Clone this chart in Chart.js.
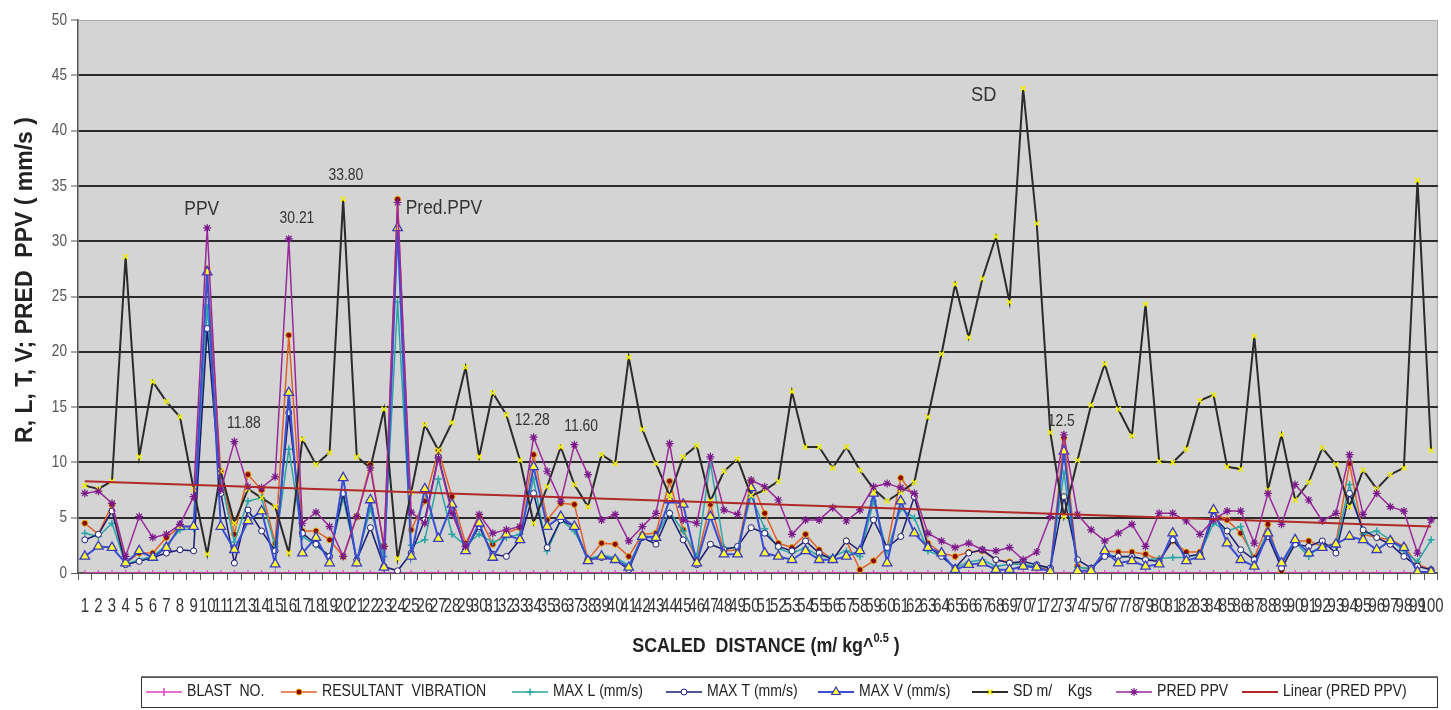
<!DOCTYPE html>
<html>
<head>
<meta charset="utf-8">
<script src="https://cdn.jsdelivr.net/npm/chart.js@4.4.0/dist/chart.umd.min.js"></script>
<style>
  html, body { margin: 0; padding: 0; background: #ffffff; }
  #wrap { width: 1451px; height: 710px; position: relative; }
</style>
</head>
<body>
<div id="wrap"><canvas id="c" width="1451" height="710"></canvas></div>
<script>
// Blast numbers along the category axis
const categories = [
  '1','2','3','4','5','6','7','8','9','10','11','12','13','14','15','16','17','18','19','20',
  '21','22','23','24','25','26','27','28','29','30','31','32','33','34','35','36','37','38','39','40',
  '41','42','43','44','45','46','47','48','49','50','51','52','53','54','55','56','57','58','59','60',
  '61','62','63','64','65','66','67','68','69','70','71','72','73','74','75','76','77','78','79','80',
  '81','82','83','84','85','86','87','88','89','90','91','92','93','94','95','96','97','98','99','100'
];

const yTicks = [0, 5, 10, 15, 20, 25, 30, 35, 40, 45, 50];

const blastNo = [
  0,0,0,0,0,0,0,0,0,0, 0,0,0,0,0,0,0,0,0,0, 0,0,0,0,0,0,0,0,0,0, 0,0,0,0,0,0,0,0,0,0,
  0,0,0,0,0,0,0,0,0,0, 0,0,0,0,0,0,0,0,0,0, 0,0,0,0,0,0,0,0,0,0, 0,0,0,0,0,0,0,0,0,0,
  0,0,0,0,0,0,0,0,0,0, 0,0,0,0,0,0,0,0,0,0
];

const resultant = [
  4.5, 3.5, 6.2, 0.9, 1.8, 1.8, 3.2, 4.2, 4.2, 27.5,
  9.2, 3.5, 8.9, 7.5, 2.7, 21.5, 3.8, 3.8, 3.0, 1.5,
  5.1, 9.8, 2.4, 33.8, 3.9, 6.5, 11.1, 6.9, 2.7, 5.1,
  2.6, 3.6, 4.1, 10.7, 4.8, 6.3, 6.2, 1.2, 2.7, 2.6,
  1.5, 3.5, 3.6, 8.3, 3.9, 1.2, 6.2, 2.0, 2.1, 8.3,
  5.4, 2.7, 2.3, 3.5, 2.1, 1.2, 2.9, 0.3, 1.1, 2.3,
  8.6, 6.9, 2.7, 1.8, 1.5, 1.9, 2.0, 1.2, 1.0, 0.8,
  0.5, 0.4, 12.2, 0.6, 0.3, 2.0, 1.9, 1.9, 1.7, 1.2,
  2.9, 1.9, 1.9, 5.4, 4.8, 3.6, 1.4, 4.4, 0.2, 2.9,
  2.9, 2.4, 2.7, 9.9, 3.5, 3.2, 3.0, 2.4, 0.8, 0.3
];

const maxL = [
  3.6, 3.3, 4.5, 0.8, 1.2, 1.5, 2.5, 3.9, 4.0, 24.0,
  8.5, 2.8, 6.5, 6.8, 2.4, 11.2, 3.3, 2.5, 1.5, 6.8,
  1.2, 5.8, 1.5, 24.5, 2.5, 3.0, 8.5, 3.5, 2.5, 3.5,
  2.8, 3.2, 3.5, 8.5, 2.0, 4.8, 3.8, 1.3, 1.6, 1.4,
  0.7, 3.3, 3.3, 5.5, 3.8, 1.5, 10.0, 2.3, 2.2, 7.0,
  4.0, 2.2, 1.8, 2.3, 1.5, 1.5, 2.0, 1.5, 6.5, 2.0,
  5.8, 5.0, 2.0, 1.5, 0.5, 1.0, 1.2, 0.6, 0.8, 0.8,
  0.6, 0.5, 9.0, 0.5, 0.4, 1.8, 1.4, 1.5, 1.2, 1.3,
  1.4, 1.4, 1.7, 4.5, 3.8, 4.2, 1.0, 3.8, 0.8, 2.8,
  1.5, 2.6, 2.4, 8.0, 3.5, 3.8, 3.0, 2.0, 1.0, 3.0
];

const maxT = [
  3.0, 3.5, 5.6, 0.75, 1.05, 1.4, 1.8, 2.1, 2.0, 22.1,
  7.2, 0.9, 5.7, 3.8, 2.0, 14.5, 3.6, 2.6, 1.5, 7.2,
  1.2, 4.1, 0.6, 0.2, 1.8, 4.8, 10.5, 5.7, 2.1, 4.2,
  1.7, 1.5, 3.0, 7.2, 2.3, 4.8, 4.2, 1.2, 1.4, 1.2,
  0.3, 3.2, 2.6, 5.4, 3.0, 0.75, 2.6, 2.1, 2.4, 4.1,
  3.6, 2.4, 2.0, 2.9, 1.8, 1.2, 2.9, 2.0, 4.8, 2.3,
  3.3, 6.9, 2.4, 1.5, 0.45, 1.8, 2.1, 1.2, 0.9, 1.05,
  0.75, 0.45, 6.9, 1.2, 0.45, 1.5, 1.5, 1.5, 1.2, 1.05,
  3.0, 1.5, 1.7, 5.1, 3.8, 2.1, 1.2, 3.3, 0.45, 2.6,
  2.4, 2.9, 1.8, 7.2, 3.9, 3.2, 2.6, 1.5, 0.6, 0.3
];

const maxV = [
  1.5, 2.4, 2.3, 0.9, 2.0, 1.4, 2.3, 4.2, 4.2, 27.2,
  4.2, 2.1, 4.7, 5.6, 0.8, 16.3, 1.8, 3.2, 0.9, 8.6,
  0.9, 6.6, 0.5, 31.2, 1.5, 7.6, 3.1, 6.2, 2.0, 4.5,
  1.4, 3.5, 3.0, 9.6, 4.2, 5.1, 4.2, 1.1, 1.5, 1.2,
  0.5, 3.3, 3.2, 6.6, 6.2, 0.9, 5.1, 1.7, 1.7, 7.7,
  1.8, 1.5, 1.2, 2.0, 1.2, 1.2, 1.5, 2.0, 7.2, 0.9,
  6.5, 3.6, 2.3, 1.8, 0.3, 0.75, 0.9, 0.3, 0.3, 0.6,
  0.5, 0.15, 11.0, 0.2, 0.2, 2.0, 0.9, 1.1, 0.6, 0.8,
  3.6, 1.1, 1.5, 5.7, 2.7, 1.2, 0.6, 3.6, 0.9, 3.0,
  1.8, 2.3, 2.6, 3.3, 3.0, 2.1, 2.9, 2.3, 0.1, 0.1
];

const sdMKg = [
  7.9, 7.6, 8.3, 28.6, 10.5, 17.3, 15.5, 14.1, 7.6, 1.7,
  9.2, 4.5, 7.6, 6.8, 6.0, 1.8, 12.1, 9.8, 10.9, 33.8,
  10.5, 9.5, 14.8, 1.3, 7.3, 13.4, 11.1, 13.6, 18.6, 10.5,
  16.3, 14.3, 10.2, 4.5, 7.8, 11.4, 8.0, 6.0, 10.7, 9.9,
  19.5, 13.0, 9.9, 7.0, 10.5, 11.5, 6.5, 9.2, 10.3, 7.0,
  7.5, 8.3, 16.4, 11.4, 11.4, 9.5, 11.4, 9.3, 7.6, 6.5,
  7.3, 8.2, 14.1, 19.8, 26.1, 21.3, 26.6, 30.4, 24.5, 43.8,
  31.6, 12.7, 5.1, 10.2, 15.2, 18.9, 14.8, 12.4, 24.3, 10.1,
  10.0, 11.2, 15.6, 16.1, 9.6, 9.4, 21.4, 7.5, 12.5, 6.6,
  8.2, 11.3, 9.8, 6.0, 9.3, 7.6, 8.9, 9.5, 35.5, 11.1
];

const predPPV = [
  7.2, 7.4, 6.3, 1.5, 5.1, 3.2, 3.5, 4.4, 6.9, 31.2,
  7.5, 11.88, 7.8, 7.7, 8.7, 30.21, 4.5, 5.5, 4.2, 1.5,
  5.1, 9.5, 2.4, 33.5, 5.5, 4.5, 10.4, 5.4, 2.4, 5.3,
  3.6, 3.9, 4.2, 12.28, 9.2, 6.5, 11.60, 8.9, 4.8, 5.3,
  2.9, 4.2, 5.4, 11.7, 4.8, 4.5, 10.5, 5.7, 5.3, 8.4,
  7.8, 6.6, 3.5, 4.8, 4.8, 5.9, 4.7, 5.7, 7.8, 8.1,
  7.7, 7.2, 3.6, 2.9, 2.3, 2.7, 2.1, 2.0, 2.3, 1.2,
  1.9, 5.1, 12.5, 5.3, 3.9, 2.9, 3.6, 4.4, 2.4, 5.4,
  5.4, 4.7, 3.5, 4.8, 5.6, 5.6, 2.7, 7.2, 4.4, 8.0,
  6.6, 4.7, 5.4, 10.7, 5.3, 7.2, 6.0, 5.6, 1.8, 4.8
];

// Linear trend of PRED PPV: value at the first and at the last blast
const trendEnds = [8.3, 4.2];

const seriesNames = [
  'BLAST  NO.', 'RESULTANT  VIBRATION', 'MAX L (mm/s)', 'MAX T (mm/s)',
  'MAX V (mm/s)', 'SD m/    Kgs', 'PRED PPV', 'Linear (PRED PPV)'
];

const FONT = '"Liberation Sans", Arial, Helvetica, sans-serif';

const series = {
  blast: blastNo, res: resultant, L: maxL, T: maxT, V: maxV, sd: sdMKg, pred: predPPV
};

// Text placed on the plot; numeric ones read their value from the series
const notes = [
  { text: 'PPV', cat: 9.6, val: 32.9, size: 20 },
  { ref: 'pred', idx: 15, digits: 2, cat: 16.6, val: 32.0, size: 16 },
  { ref: 'sd', idx: 19, digits: 2, cat: 20.2, val: 35.9, size: 16 },
  { ref: 'pred', idx: 11, digits: 2, cat: 12.7, val: 13.5, size: 16 },
  { text: 'Pred.PPV', cat: 24.6, val: 33.0, size: 20, align: 'left' },
  { ref: 'pred', idx: 33, digits: 2, cat: 33.9, val: 13.8, size: 16 },
  { ref: 'pred', idx: 36, digits: 2, cat: 37.5, val: 13.2, size: 16 },
  { text: 'SD', cat: 67.1, val: 43.2, size: 21 },
  { ref: 'pred', idx: 72, digits: 1, cat: 72.8, val: 13.7, size: 16 }
];

// draw a text run squeezed horizontally by sx
function narrowText(ctx, text, x, y, font, sx, align) {
  ctx.save();
  ctx.font = font;
  ctx.translate(x, y);
  ctx.scale(sx, 1);
  ctx.textAlign = align || 'center';
  ctx.textBaseline = 'middle';
  ctx.fillText(text, 0, 0);
  ctx.restore();
}

const plotFrame = {
  id: 'plotFrame',
  beforeDraw(chart) {
    const { ctx, chartArea: a } = chart;
    ctx.save();
    ctx.fillStyle = '#ffffff';
    ctx.fillRect(0, 0, chart.width, chart.height);
    ctx.fillStyle = '#d4d4d4';
    ctx.fillRect(a.left, a.top, a.right - a.left, a.bottom - a.top);
    ctx.strokeStyle = '#a8a8a8';
    ctx.lineWidth = 1;
    ctx.beginPath();
    ctx.moveTo(a.left, a.top + 0.5);
    ctx.lineTo(a.right - 0.5, a.top + 0.5);
    ctx.lineTo(a.right - 0.5, a.bottom);
    ctx.stroke();
    ctx.restore();
  }
};

const plotNotes = {
  id: 'plotNotes',
  afterDatasetsDraw(chart) {
    const { ctx } = chart;
    const xs = chart.scales.x, ys = chart.scales.y;
    ctx.save();
    ctx.fillStyle = '#333333';
    notes.forEach(n => {
      const txt = n.ref ? series[n.ref][n.idx].toFixed(n.digits) : n.text;
      narrowText(ctx, txt, xs.getPixelForValue(n.cat - 1), ys.getPixelForValue(n.val),
        n.size + 'px ' + FONT, 0.87, n.align || 'center');
    });
    ctx.restore();
  }
};

const tickText = {
  id: 'tickText',
  afterDraw(chart) {
    const { ctx } = chart;
    const xs = chart.scales.x, ys = chart.scales.y;
    ctx.save();
    ctx.fillStyle = '#333333';
    categories.forEach((c, i) => {
      narrowText(ctx, c, xs.getPixelForValue(i), 606, '21px ' + FONT, 0.71, 'center');
    });
    ctx.fillStyle = '#555555';
    yTicks.forEach(v => {
      narrowText(ctx, String(v), 67, ys.getPixelForValue(v), '17px ' + FONT, 0.8, 'right');
    });
    ctx.restore();
  }
};

const legendItems = [
  { color: '#e040c0', width: 1.5, point: { pointStyle: 'line', rotation: 90, radius: 4, borderWidth: 1.5 }, fill: '#e040c0', stroke: '#e040c0' },
  { color: '#e0602a', width: 1.5, point: { pointStyle: 'circle', radius: 3, borderWidth: 1 }, fill: '#8b0000', stroke: '#e8b000' },
  { color: '#2aa5a5', width: 1.5, point: { pointStyle: 'cross', radius: 3.5, borderWidth: 1.5 }, fill: '#2aa5a5', stroke: '#2aa5a5' },
  { color: '#1c1c70', width: 1.5, point: { pointStyle: 'circle', radius: 3, borderWidth: 1 }, fill: '#ffffff', stroke: '#1c1c70' },
  { color: '#3a4fd0', width: 2, point: { pointStyle: 'triangle', radius: 5, borderWidth: 1.2 }, fill: '#ffff33', stroke: '#3a3ac0' },
  { color: '#2b2b2b', width: 2, point: { pointStyle: 'crossRot', radius: 3.5, borderWidth: 1.5 }, fill: '#f2f200', stroke: '#f2f200' },
  { color: '#9a2a9a', width: 1.5, point: { pointStyle: 'star', radius: 4, borderWidth: 1.2 }, fill: '#7a1a8a', stroke: '#7a1a8a' },
  { color: '#b02828', width: 2, point: null }
];
const legendSampleX = [146, 281, 512, 666, 818, 972, 1116, 1242];

const axisTitles = {
  id: 'axisTitles',
  afterDraw(chart) {
    const { ctx } = chart;
    ctx.save();
    ctx.fillStyle = '#222222';
    ctx.textBaseline = 'middle';

    // y-axis title, read bottom to top
    ctx.save();
    ctx.translate(26, 280);
    ctx.rotate(-Math.PI / 2);
    ctx.textAlign = 'center';
    ctx.font = 'bold 23px ' + FONT;
    ctx.fillText('R, L, T, V; PRED  PPV ( mm/s )', 0, 0);
    ctx.restore();

    // x-axis title with the raised exponent
    const y0 = 646;
    const sx = 0.85;
    const main = 'SCALED  DISTANCE (m/ kg^';
    const sup = '0.5';
    const tail = ' )';
    ctx.font = 'bold 21px ' + FONT;
    const w1 = ctx.measureText(main).width * sx;
    const w3 = ctx.measureText(tail).width * sx;
    ctx.font = 'bold 13px ' + FONT;
    const w2 = ctx.measureText(sup).width * sx;
    let x = 766 - (w1 + w2 + w3) / 2;
    narrowText(ctx, main, x, y0, 'bold 21px ' + FONT, sx, 'left');
    x += w1;
    narrowText(ctx, sup, x, y0 - 8, 'bold 13px ' + FONT, sx, 'left');
    x += w2;
    narrowText(ctx, tail, x, y0, 'bold 21px ' + FONT, sx, 'left');

    // legend box
    ctx.strokeStyle = '#333333';
    ctx.lineWidth = 1;
    ctx.strokeRect(141.5, 677.5, 1296, 30);
    ctx.fillStyle = '#7a7a7a';
    ctx.fillRect(141, 676, 1297, 1.5);
    const ly = 692;
    legendItems.forEach((it, i) => {
      const lx = legendSampleX[i];
      ctx.strokeStyle = it.color;
      ctx.lineWidth = it.width;
      ctx.beginPath();
      ctx.moveTo(lx, ly);
      ctx.lineTo(lx + 36, ly);
      ctx.stroke();
      if (it.point) {
        ctx.fillStyle = it.fill;
        ctx.strokeStyle = it.stroke;
        ctx.lineWidth = it.point.borderWidth;
        Chart.helpers.drawPoint(ctx, it.point, lx + 18, ly);
      }
      ctx.fillStyle = '#222222';
      narrowText(ctx, seriesNames[i], lx + 41, ly, '16px ' + FONT, 0.88, 'left');
    });
    ctx.restore();
  }
};

function lineSet(label, data, color, width, pStyle, pRadius, pFill, pStroke, pBorder, order, rotation) {
  return {
    label, data, order,
    borderColor: color, borderWidth: width,
    pointStyle: pStyle, pointRadius: pRadius,
    pointBackgroundColor: pFill, pointBorderColor: pStroke, pointBorderWidth: pBorder,
    pointRotation: rotation || 0,
    tension: 0, fill: false
  };
}

const datasets = [
  lineSet(seriesNames[0], blastNo, '#e040c0', 1.5, 'line', 3, '#e040c0', '#e040c0', 1.2, 8, 90),
  lineSet(seriesNames[1], resultant, '#e0602a', 1.5, 'circle', 3, '#8b0000', '#e8b000', 1, 7),
  lineSet(seriesNames[2], maxL, '#2aa5a5', 1.5, 'cross', 3.5, '#2aa5a5', '#2aa5a5', 1.5, 6),
  lineSet(seriesNames[3], maxT, '#1c1c70', 1.5, 'circle', 3, '#ffffff', '#1c1c70', 1, 5),
  lineSet(seriesNames[4], maxV, '#3a4fd0', 2, 'triangle', 5.5, '#ffff33', '#3a3ac0', 1.3, 4),
  lineSet(seriesNames[5], sdMKg, '#2b2b2b', 2, 'crossRot', 3.5, '#f2f200', '#f2f200', 1.5, 3),
  lineSet(seriesNames[6], predPPV, '#9a2a9a', 1.5, 'star', 4, '#7a1a8a', '#7a1a8a', 1.2, 2),
  {
    label: seriesNames[7],
    data: [{ x: categories[0], y: trendEnds[0] }, { x: categories[categories.length - 1], y: trendEnds[1] }],
    borderColor: '#b02828', borderWidth: 2, pointRadius: 0, order: 1, tension: 0, fill: false
  }
];

new Chart(document.getElementById('c'), {
  type: 'line',
  data: { labels: categories, datasets },
  options: {
    responsive: false,
    animation: false,
    events: [],
    devicePixelRatio: 1,
    layout: { padding: { left: 0, right: 13, top: 20, bottom: 87 } },
    plugins: {
      legend: { display: false },
      tooltip: { enabled: false }
    },
    scales: {
      x: {
        type: 'category',
        offset: true,
        grid: {
          offset: true, drawOnChartArea: false, drawTicks: true,
          tickLength: 7, tickColor: '#555555', tickWidth: 1
        },
        border: { display: true, color: '#555555', width: 1.5 },
        ticks: {
          autoSkip: false, maxRotation: 0, minRotation: 0,
          padding: 19,
          color: 'rgba(0,0,0,0)',
          font: { family: FONT, size: 1 }
        },
        afterFit(scale) { scale.height = 50; }
      },
      y: {
        min: 0, max: 50,
        afterBuildTicks(scale) { scale.ticks = yTicks.map(v => ({ value: v })); },
        grid: {
          color(c) {
            const v = c.tick ? c.tick.value : 0;
            if (v === 50) return 'rgba(0,0,0,0)';
            if (v === 0) return '#555555';
            return '#2a2a2a';
          },
          lineWidth(c) { return (c.tick && c.tick.value === 0) ? 1 : 2; },
          drawTicks: true, tickLength: 7, tickColor: '#555555', tickWidth: 1
        },
        border: { display: true, color: '#555555', width: 1.5 },
        ticks: {
          padding: 4,
          color: 'rgba(0,0,0,0)',
          font: { family: FONT, size: 1 }
        },
        title: { display: false },
        afterFit(scale) { scale.width = 78; }
      }
    }
  },
  plugins: [plotFrame, plotNotes, tickText, axisTitles]
});
</script>
</body>
</html>
